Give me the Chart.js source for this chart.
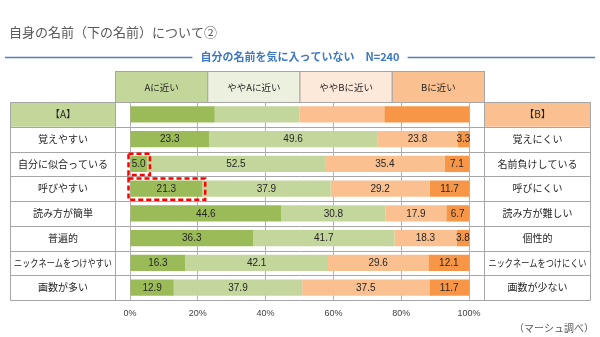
<!DOCTYPE html>
<html><head><meta charset="utf-8">
<script src="https://cdn.jsdelivr.net/npm/chart.js@4"></script>
<style>html,body{margin:0;padding:0;background:#fff;}canvas{display:block;}</style>
</head><body>
<canvas id="c" width="600" height="337"></canvas>
<script>
const categories = ['【A】','覚えやすい','自分に似合っている','呼びやすい','読み方が簡単','普遍的','ニックネームをつけやすい','画数が多い'];
const rightLabels = ['【B】','覚えにくい','名前負けしている','呼びにくい','読み方が難しい','個性的','ニックネームをつけにくい','画数が少ない'];
const legendLabels = ['Aに近い','ややAに近い','ややBに近い','Bに近い'];
const nearA   = [25, 23.3,  5.0, 21.3, 44.6, 36.3, 16.3, 12.9];
const slightA = [25, 49.6, 52.5, 37.9, 30.8, 41.7, 42.1, 37.9];
const slightB = [25, 23.8, 35.4, 29.2, 17.9, 18.3, 29.6, 37.5];
const nearB   = [25,  3.3,  7.1, 11.7,  6.7,  3.8, 12.1, 11.7];
const xTicks = [0, 20, 40, 60, 80, 100];
const highlights = [{ds:0,row:2},{ds:0,row:3}];
const titleText = '自身の名前（下の名前）について②';
const subTitle = '自分の名前を気に入っていない　N=240';
const sourceText = '（マーシュ調べ）';

const barColors = ['#9bbb59','#c3d69b','#fac090','#f79646'];
const headColors = ['#c4d79b','#ebf1de','#fde9d9','#fac090'];
const JP = '"Noto Sans CJK JP", "Noto Sans", sans-serif';
const border = '#a6a6a6';

const decor = {
  id:'decor',
  beforeDraw(chart){
    const ctx = chart.ctx, ca = chart.chartArea, ys = chart.scales.y;
    ctx.save();
    ctx.fillStyle='#fff'; ctx.fillRect(0,0,chart.width,chart.height);
    // title
    ctx.fillStyle='#595959'; ctx.font='13px '+JP; ctx.textBaseline='middle'; ctx.textAlign='left';
    ctx.fillText(titleText, 9, 32);
    // subtitle with lines
    ctx.font='bold 11px '+JP; ctx.textAlign='center'; ctx.fillStyle='#3c78c3';
    ctx.fillText(subTitle, 300, 57);
    const w = ctx.measureText(subTitle).width;
    ctx.strokeStyle='#4f81bd'; ctx.lineWidth=1.5;
    ctx.beginPath(); ctx.moveTo(5,57.5); ctx.lineTo(300-w/2-8,57.5);
    ctx.moveTo(300+w/2+8,57.5); ctx.lineTo(595,57.5); ctx.stroke();
    // legend header boxes
    const L=115.5, R=484.5, T=71.5, B=102.5, bw=(R-L)/4;
    ctx.font='9.5px '+JP; ctx.lineWidth=1; ctx.strokeStyle=border;
    for(let i=0;i<4;i++){
      ctx.fillStyle=headColors[i]; ctx.fillRect(L+i*bw,T,bw,B-T);
      ctx.strokeRect(L+i*bw,T,bw,B-T);
      ctx.fillStyle='#262626'; ctx.fillText(legendLabels[i], L+i*bw+bw/2, (T+B)/2);
    }
    // table
    const n = categories.length;
    const rowH = (ca.bottom-ca.top)/n;
    const lx0=10.5, lx1=115.5, rx0=484.5, rx1=590.5;
    ctx.fillStyle='#c4d79b'; ctx.fillRect(lx0, ca.top, lx1-lx0, rowH);
    ctx.fillStyle='#fac090'; ctx.fillRect(rx0, ca.top, rx1-rx0, rowH);
    ctx.strokeStyle=border; ctx.lineWidth=1;
    ctx.beginPath();
    for(let i=0;i<=n;i++){
      const y = Math.round(ys.getPixelForValue(i)-rowH/2)+0.5;
      ctx.moveTo(lx0,y); ctx.lineTo(rx1,y);
    }
    [lx0,lx1,rx0,rx1].forEach(x=>{ctx.moveTo(x,Math.round(ca.top)+0.5);ctx.lineTo(x,Math.round(ca.bottom)+0.5);});
    ctx.stroke();
    ctx.fillStyle='#262626'; ctx.font='10px '+JP; ctx.textAlign='center';
    for(let i=0;i<n;i++){
      const y = ys.getPixelForValue(i);
      ctx.fillText(categories[i], (lx0+lx1)/2, y, 98);
      ctx.fillText(rightLabels[i], (rx0+rx1)/2, y, 98);
    }
    // source
    ctx.fillStyle='#595959'; ctx.font='10px '+JP; ctx.textAlign='right';
    ctx.fillText(sourceText, 594, 328);
    ctx.restore();
  },
  afterDatasetsDraw(chart){
    const ctx = chart.ctx;
    ctx.save();
    ctx.font='10px "Liberation Sans", Arial, sans-serif'; ctx.fillStyle='#262626';
    ctx.textAlign='center'; ctx.textBaseline='middle';
    chart.data.datasets.forEach((ds,di)=>{
      chart.getDatasetMeta(di).data.forEach((bar,ri)=>{
        if(ri===0) return;
        const cx=(bar.base+bar.x)/2;
        ctx.fillText(ds.data[ri].toFixed(1), cx, bar.y+0.5);
      });
    });
    ctx.strokeStyle='#ff0000'; ctx.lineWidth=2.5; ctx.setLineDash([5,3]);
    highlights.forEach(h=>{
      const bar = chart.getDatasetMeta(h.ds).data[h.row];
      const x0=Math.min(bar.base,bar.x)-2, x1=Math.max(bar.base,bar.x)+3;
      const y0=bar.y-bar.height/2-2, y1=bar.y+bar.height/2+3;
      ctx.strokeRect(x0,y0,x1-x0,y1-y0);
    });
    ctx.restore();
  }
};

new Chart(document.getElementById('c'),{
  type:'bar',
  data:{
    labels:categories,
    datasets:[nearA,slightA,slightB,nearB].map((d,i)=>({label:legendLabels[i],data:d,backgroundColor:barColors[i],borderWidth:0,categoryPercentage:1,barPercentage:0.66}))
  },
  options:{
    indexAxis:'y',responsive:false,animation:false,devicePixelRatio:1,
    layout:{padding:{left:130,right:131,top:102,bottom:0}},
    plugins:{legend:{display:false},tooltip:{enabled:false}},
    scales:{
      x:{stacked:true,min:0,max:100,
        afterBuildTicks(s){s.ticks=xTicks.map(v=>({value:v}));},
        afterFit(s){s.height=37;},
        border:{display:false},
        grid:{color:'#b3b3b3',lineWidth:1,drawTicks:false},
        ticks:{padding:8,color:'#404040',font:{size:9,family:'"Liberation Sans", Arial, sans-serif'},callback:v=>v+'%'}},
      y:{stacked:true,display:false}
    }
  },
  plugins:[decor]
});
</script>
</body></html>
